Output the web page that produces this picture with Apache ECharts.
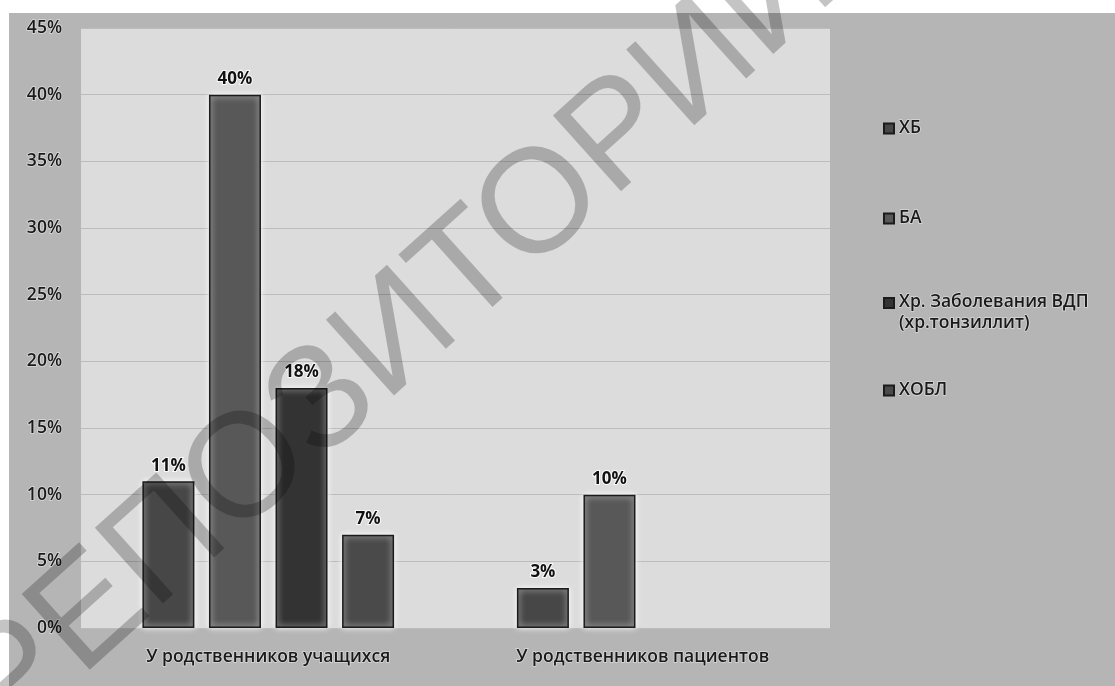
<!DOCTYPE html>
<html>
<head>
<meta charset="utf-8">
<script src="https://cdn.jsdelivr.net/npm/echarts@6/dist/echarts.min.js"></script>
<style>
  html, body { margin: 0; padding: 0; background: #ffffff; }
  #chart { width: 1115px; height: 686px; }
</style>
</head>
<body>
<div id="chart"></div>
<script>
// Groups of relatives
const categories = ['У родственников учащихся', 'У родственников пациентов'];

// Share of each disease, %
const seriesNames = ['ХБ', 'БА', 'Хр. Заболевания ВДП\n(хр.тонзиллит)', 'ХОБЛ'];
const valuesHB   = [11, 3];
const valuesBA   = [40, 10];
const valuesVDP  = [18, '-'];
const valuesHOBL = [7, '-'];

// Value axis
const yMin = 0;
const yMax = 45;
const yStep = 5;

const FONT = '"Open Sans", "Noto Sans", sans-serif';
const fills = ['#474747', '#585858', '#333333', '#4a4a4a'];
const allValues = [valuesHB, valuesBA, valuesVDP, valuesHOBL];

const chart = echarts.init(document.getElementById('chart'), null, { renderer: 'canvas' });

const series = seriesNames.map((name, i) => ({
  name: name,
  type: 'bar',
  data: allValues[i],
  barWidth: 52,
  barGap: '28%',
  itemStyle: {
    color: fills[i],
    borderColor: '#1b1b1b',
    borderWidth: 1.5,
    shadowColor: '#ffffff',
    shadowBlur: 6
  },
  label: {
    show: true,
    position: 'top',
    distance: 7,
    formatter: '{c}%',
    fontFamily: FONT,
    fontWeight: 'bold',
    fontSize: 17,
    color: '#111',
    textBorderColor: 'rgba(255,255,255,0.85)',
    textBorderWidth: 2
  }
}));

const legendText = {
  fontFamily: FONT,
  fontWeight: 600,
  fontSize: 17.5,
  color: '#1a1a1a',
  lineHeight: 21,
  textBorderColor: 'rgba(255,255,255,0.5)',
  textBorderWidth: 1.5
};

function legendFor(name, top, extra) {
  return Object.assign({
    data: [name],
    orient: 'vertical',
    left: 883,
    top: top,
    icon: 'rect',
    itemWidth: 10,
    itemHeight: 10,
    itemGap: 0,
    padding: 0,
    selectedMode: false,
    textStyle: legendText
  }, extra || {});
}

const axisText = {
  fontFamily: FONT,
  fontWeight: 600,
  fontSize: 17.5,
  color: '#1a1a1a',
  textBorderColor: 'rgba(255,255,255,0.5)',
  textBorderWidth: 1.5
};

chart.setOption({
  backgroundColor: '#ffffff',
  animation: false,
  graphic: [
    {
      type: 'rect',
      z: -10,
      shape: { x: 9, y: 13, width: 1106, height: 673 },
      style: { fill: '#b5b5b5' }
    },
    {
      type: 'text',
      z: 100,
      x: 398,
      y: 337,
      rotation: 42 * Math.PI / 180,
      style: {
        text: 'РЕПОЗИТОРИЙ',
        fontFamily: '"Liberation Sans", Arial, sans-serif',
        fontSize: 148,
        textAlign: 'center',
        textVerticalAlign: 'middle',
        fill: 'rgba(0,0,0,0.23)'
      }
    }
  ],
  grid: {
    left: 81,
    right: 285,
    top: 28,
    bottom: 58,
    show: true,
    backgroundColor: '#dcdcdc',
    borderWidth: 0
  },
  legend: [
    legendFor(seriesNames[0], 118),
    legendFor(seriesNames[1], 208),
    legendFor(seriesNames[2], 291, {
      itemHeight: 42,
      icon: 'path://M0,0L0.01,0M0,6L10,6L10,16L0,16ZM0,42L0.01,42'
    }),
    legendFor(seriesNames[3], 380)
  ],
  xAxis: {
    type: 'category',
    data: categories,
    axisLine: { show: false },
    axisTick: { show: false },
    axisLabel: Object.assign({ margin: 20 }, axisText)
  },
  yAxis: {
    type: 'value',
    min: yMin,
    max: yMax,
    interval: yStep,
    axisLine: { show: false },
    axisTick: { show: false },
    splitLine: { lineStyle: { color: '#bcbcbc', width: 1 } },
    axisLabel: Object.assign({ margin: 19, formatter: '{value}%' }, axisText)
  },
  series: series
});
</script>
</body>
</html>
